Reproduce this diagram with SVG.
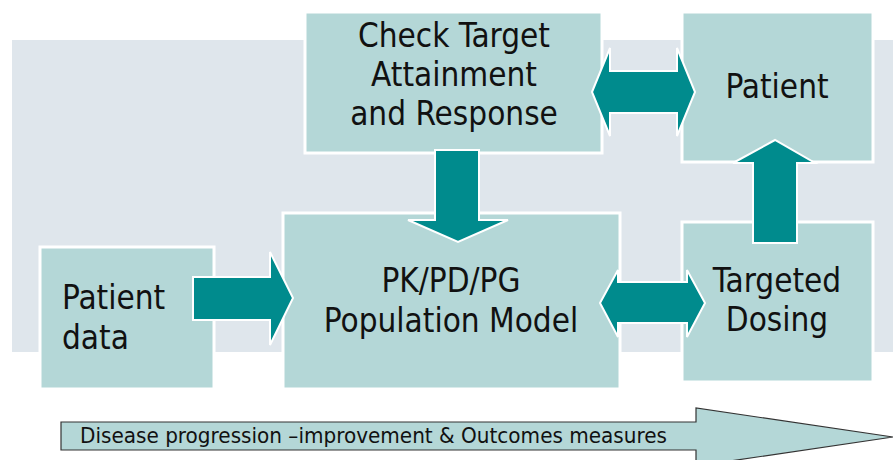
<svg xmlns="http://www.w3.org/2000/svg" width="893" height="460" viewBox="0 0 893 460">
<defs>
<style>
.box{fill:#b4d7d7;stroke:#ffffff;stroke-width:3}
.arr{fill:#008b8d;stroke:#ffffff;stroke-width:2;stroke-linejoin:miter}
.t{font-family:"DejaVu Sans Condensed","DejaVu Sans",sans-serif;font-stretch:condensed;font-size:33px;fill:#111111}
.c{text-anchor:middle}
.s{font-family:"DejaVu Sans Condensed","DejaVu Sans",sans-serif;font-stretch:condensed;font-size:22px;fill:#111111}
</style>
</defs>
<rect width="893" height="460" fill="#ffffff"/>
<rect x="12" y="40" width="881" height="312" fill="#dfe6ec"/>
<g id="progress">
<path d="M61,422 H696 V408 L893,437 L696,466 V450 H61 Z" fill="#b4d7d7" stroke="#333333" stroke-width="1.2"/>
<text class="s" x="80" y="443" textLength="587" lengthAdjust="spacingAndGlyphs">Disease progression –improvement &amp; Outcomes measures</text>
</g>
<g id="check">
<rect class="box" x="305" y="12" width="297" height="141"/>
<text class="t c" x="454" y="47">Check Target</text>
<text class="t c" x="454" y="86">Attainment</text>
<text class="t c" x="454" y="125">and Response</text>
</g>
<g id="patient">
<rect class="box" x="682" y="12" width="191" height="150"/>
<text class="t c" x="777" y="98">Patient</text>
</g>
<g id="patientdata">
<rect class="box" x="40" y="247" width="174" height="142"/>
<text class="t" x="62" y="309">Patient</text>
<text class="t" x="62" y="349">data</text>
</g>
<g id="model">
<rect class="box" x="283" y="213" width="337" height="176"/>
<text class="t c" x="451" y="292">PK/PD/PG</text>
<text class="t c" x="451" y="332">Population Model</text>
</g>
<g id="dosing">
<rect class="box" x="682" y="222" width="191" height="160"/>
<text class="t c" x="777" y="292">Targeted</text>
<text class="t c" x="777" y="331">Dosing</text>
</g>
<g id="connectors">
<path class="arr" d="M435,150 H479 V220 H508 L458,242 L408,220 H435 Z"/>
<path class="arr" d="M753,243 V163 H733 L775,140 L815,163 H797 V243 Z"/>
<path class="arr" d="M193,277 H270 V252 L293,298 L270,345 V320 H193 Z"/>
<path class="arr" d="M592,92 L610,48 V71 H677 V48 L695,92 L677,136 V113 H610 V136 Z"/>
<path class="arr" d="M600,303 L618,270 V282 H687 V270 L705,303 L687,337 V323 H618 V337 Z"/>
</g>
</svg>
